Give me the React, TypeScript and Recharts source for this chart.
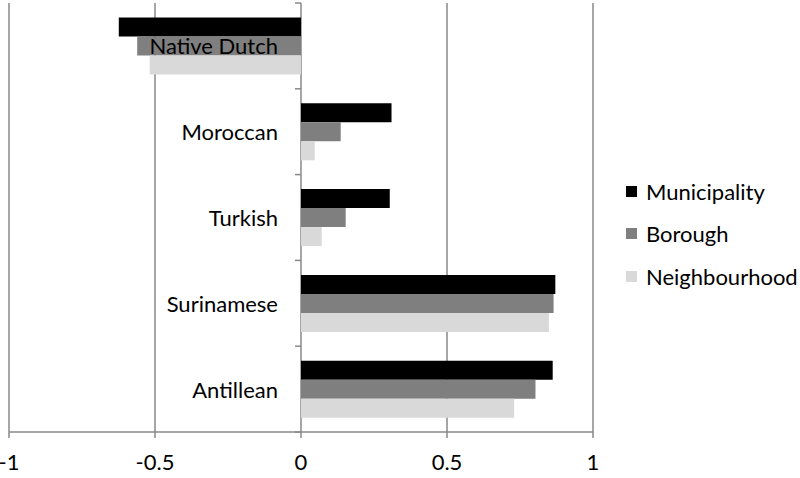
import React from "react";
import {
  BarChart,
  Bar,
  XAxis,
  YAxis,
  CartesianGrid,
} from "recharts";

const CATEGORIES = ["Native Dutch", "Moroccan", "Turkish", "Surinamese", "Antillean"];
const MUNICIPALITY = [-0.624, 0.31, 0.304, 0.871, 0.862];
const BOROUGH = [-0.561, 0.136, 0.153, 0.865, 0.803];
const NEIGHBOURHOOD = [-0.518, 0.047, 0.071, 0.849, 0.73];
const X_TICKS = [-1, -0.5, 0, 0.5, 1];

const SERIES = [
  { key: "municipality", name: "Municipality", color: "#000000", values: MUNICIPALITY },
  { key: "borough", name: "Borough", color: "#7f7f7f", values: BOROUGH },
  { key: "neighbourhood", name: "Neighbourhood", color: "#d9d9d9", values: NEIGHBOURHOOD },
];

const data = CATEGORIES.map((name, i) => {
  const row: Record<string, string | number> = { name };
  SERIES.forEach((s) => (row[s.key] = s.values[i]));
  return row;
});

const W = 800;
const H = 478;
const Y_AXIS_W = 1;
const PLOT_LEFT = 9;
const MARGIN = { top: 3, right: 207, bottom: 16, left: PLOT_LEFT - Y_AXIS_W };
const X_AXIS_H = 30;
const PLOT_W = W - PLOT_LEFT - MARGIN.right;
const PLOT_H = H - MARGIN.top - MARGIN.bottom - X_AXIS_H;
const BAND = PLOT_H / CATEGORIES.length;
const ZERO_X = PLOT_LEFT + PLOT_W / 2;

const FONT = "Lato, 'Open Sans', sans-serif";
const AXIS_GREY = "#888888";

// category names sit just left of the zero line, with small ticks at band edges
const CategoryTick = ({ y, payload, index }: any) => (
  <g>
    <line x1={ZERO_X - 6} x2={ZERO_X} y1={y - BAND / 2} y2={y - BAND / 2} stroke={AXIS_GREY} strokeWidth={1.5} />
    {index === CATEGORIES.length - 1 && (
      <line x1={ZERO_X - 6} x2={ZERO_X} y1={y + BAND / 2} y2={y + BAND / 2} stroke={AXIS_GREY} strokeWidth={1.5} />
    )}
    <text
      x={ZERO_X - 23}
      y={y}
      textAnchor="end"
      dominantBaseline="central"
      fontFamily={FONT}
      fontSize={22}
      fill="#000"
    >
      {payload.value}
    </text>
  </g>
);

export default function App() {
  return (
    <div style={{ position: "relative", width: W, height: H, fontFamily: FONT }}>
      <style>{"body{margin:0}"}</style>
      <BarChart
        width={W}
        height={H}
        data={data}
        layout="vertical"
        margin={MARGIN}
        barCategoryGap={14.5}
        barGap={0}
      >
        <CartesianGrid horizontal={false} stroke={AXIS_GREY} strokeWidth={1.5} />
        <XAxis
          type="number"
          domain={[-1, 1]}
          ticks={X_TICKS}
          height={X_AXIS_H}
          axisLine={{ stroke: AXIS_GREY, strokeWidth: 1.5 }}
          tickLine={{ stroke: AXIS_GREY, strokeWidth: 1.5 }}
          tickSize={6}
          tickMargin={16}
          tick={{ fill: "#000", fontSize: 22, fontFamily: FONT }}
          interval={0}
        />
        {SERIES.map((s) => (
          <Bar
            key={s.key}
            dataKey={s.key}
            name={s.name}
            fill={s.color}
            isAnimationActive={false}
          />
        ))}
        <YAxis
          type="category"
          dataKey="name"
          width={Y_AXIS_W}
          axisLine={false}
          tickLine={false}
          tick={<CategoryTick />}
          interval={0}
        />
      </BarChart>
      <div style={{ position: "absolute", left: 626, top: 170 }}>
        {SERIES.map((s) => (
          <div
            key={s.key}
            style={{ display: "flex", alignItems: "center", height: 42.5, fontSize: 22, color: "#000" }}
          >
            <span style={{ width: 11, height: 11, background: s.color, marginRight: 9 }} />
            {s.name}
          </div>
        ))}
      </div>
    </div>
  );
}
